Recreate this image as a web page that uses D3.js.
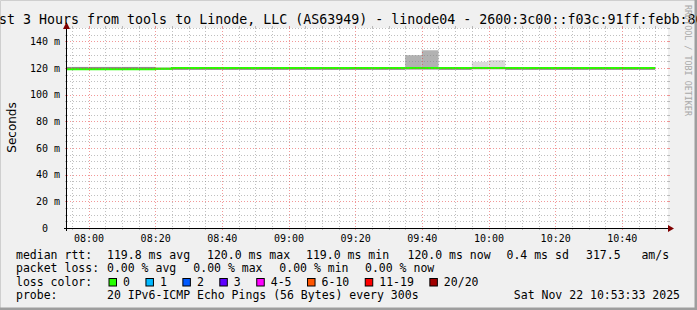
<!DOCTYPE html>
<html>
<head>
<meta charset="utf-8">
<script src="https://cdn.jsdelivr.net/npm/d3@7"></script>
<style>
  body { margin: 0; background: #f0f0f0; }
  svg { display: block; }
  text { font-family: "DejaVu Sans Mono", monospace; fill: #000; white-space: pre; }
</style>
</head>
<body>
<script>
// --- data ---
var medianRtt = [
  119.0, 119.0, 119.0, 119.0, 119.0, 119.0,   // 07:55 - 08:20
  119.5,                                      // 08:25
  120.0, 120.0, 120.0, 120.0, 120.0, 120.0, 120.0,  // 08:30 - 09:00
  120.0, 120.0, 120.0, 120.0, 120.0, 120.0, 120.0,  // 09:05 - 09:35
  120.0, 120.0, 120.0, 120.0, 120.0, 120.0, 120.0,  // 09:40 - 10:10
  120.0, 120.0, 120.0, 120.0, 120.0, 120.0, 120.0, 120.0 // 10:15 - 10:50
];
var smokeLo = [
  118.6, 118.6, 118.6, 118.6, 118.6, 118.6,
  118.6,
  118.6, 118.6, 118.6, 118.6, 118.6, 118.6, 118.6,
  118.6, 118.6, 118.6, 118.6, 118.6, 118.6, 118.6,
  118.6, 118.6, 118.6, 118.6, 118.6, 118.6, 118.6,
  118.6, 118.6, 118.6, 118.6, 118.6, 118.6, 118.6, 118.6
];
var smokeHi = [
  120.8, 120.8, 120.8, 120.8, 120.8, 120.8,
  120.3,
  120.3, 120.3, 120.3, 120.3, 120.3, 120.3, 120.3,
  120.3, 120.3, 120.3, 120.3, 120.3, 120.3, 120.3,
  129.6, 133.3, 120.3, 120.3, 124.6, 125.9, 120.3,
  120.3, 120.3, 120.3, 120.3, 120.3, 120.3, 120.3, 120.3
];
var titleText = "Last 3 Hours from tools to Linode, LLC (AS63949) - linode04 - 2600:3c00::f03c:91ff:febb:80";
var rttLegend = ["median rtt:", "119.8 ms avg", "120.0 ms max", "119.0 ms min", "120.0 ms now", "0.4 ms sd", "317.5   am/s"];
var lossLegend = ["packet loss:", "0.00 % avg", "0.00 % max", "0.00 % min", "0.00 % now"];
var lossLabels = ["0", "1", "2", "3", "4-5", "6-10", "11-19", "20/20"];
var probeLegend = ["probe:", "20 IPv6-ICMP Echo Pings (56 Bytes) every 300s"];
var stampText = "Sat Nov 22 10:53:33 2025";

var timeStart = new Date(2025, 10, 22, 7, 53, 33);
var timeEnd = new Date(2025, 10, 22, 10, 53, 33);
var step = 5; // minutes
var intervalEnds = d3.timeMinute.every(step).range(new Date(2025, 10, 22, 7, 55), new Date(2025, 10, 22, 10, 51));

// --- styling ---
var W = 697, H = 310;
var pL = 67, pR = 667, pT = 28, pB = 228;
var lossColors = ["#26ff00", "#00b8ff", "#0059ff", "#5e00ff", "#ff00ff", "#ff5500", "#ff0000", "#a10000"];
var gridCol = "rgba(130,130,130,0.5)";
var mgridCol = "rgba(230,50,50,0.5)";

var svg = d3.select("body").append("svg").attr("width", W).attr("height", H);

// background + 3d border
svg.append("rect").attr("width", W).attr("height", H).attr("fill", "#f0f0f0");
svg.append("path").attr("d", "M0.5," + (H - 1) + "V0.5H" + (W - 1)).attr("stroke", "#cfcfcf").attr("fill", "none");
svg.append("path").attr("d", "M" + (W - 1) + ",0V" + (H - 1) + "H0").attr("stroke", "#9e9e9e").attr("stroke-width", 3).attr("fill", "none");

var x = d3.scaleTime().domain([timeStart, timeEnd]).range([pL, pR]);
var y = d3.scaleLinear().domain([0, 150]).range([pB, pT]);

svg.append("rect").attr("x", pL).attr("y", pT).attr("width", pR - pL + 1).attr("height", pB - pT)
  .attr("fill", "#fff");

svg.append("clipPath").attr("id", "plot").append("rect")
  .attr("x", pL).attr("y", pT).attr("width", pR - pL + 1).attr("height", pB - pT);

var g = svg.append("g").attr("clip-path", "url(#plot)");

// smoke
g.selectAll("rect.smoke")
  .data(intervalEnds)
  .enter().append("rect")
  .attr("class", "smoke")
  .attr("x", function(d) { return x(d3.timeMinute.offset(d, -step)); })
  .attr("width", function(d) { return x(d) - x(d3.timeMinute.offset(d, -step)); })
  .attr("y", function(d, i) { return y(smokeHi[i]); })
  .attr("height", function(d, i) { return y(smokeLo[i]) - y(smokeHi[i]); })
  .attr("fill", function(d, i) {
    var spread = smokeHi[i] - medianRtt[i];
    if (spread > 8) return "#b2b2b2";
    if (spread > 2) return "#dadada";
    return "#8c8c8c";
  });

// median line
var pts = [];
intervalEnds.forEach(function(d, i) {
  pts.push([d3.timeMinute.offset(d, -step), medianRtt[i]]);
  pts.push([d, medianRtt[i]]);
});
var line = d3.line().x(function(d) { return x(d[0]); }).y(function(d) { return y(d[1]); });
g.append("path").datum(pts).attr("d", line)
  .attr("fill", "none").attr("stroke", lossColors[0]).attr("stroke-width", 2);

// grid (drawn on top like rrdtool)
var minorX = x.ticks(d3.timeMinute.every(5)).filter(function(t) { return t.getMinutes() % 20 !== 0; });
var majorX = x.ticks(d3.timeMinute.every(20));
var minorY = d3.range(5, 151, 5).filter(function(v) { return v % 20 !== 0; });
var majorY = d3.range(20, 141, 20);

function px(v) { return Math.round(v) + 0.5; }

var grid = svg.append("g");
function vgrid(list, col) {
  grid.selectAll(null).data(list).enter().append("line")
    .attr("x1", function(d) { return px(x(d)); }).attr("x2", function(d) { return px(x(d)); })
    .attr("y1", pT).attr("y2", pB)
    .attr("stroke", col).attr("stroke-dasharray", "1,2");
  [[pT - 2, pT], [pB, pB + 2]].forEach(function(e) {
    grid.selectAll(null).data(list).enter().append("line")
      .attr("x1", function(d) { return px(x(d)); }).attr("x2", function(d) { return px(x(d)); })
      .attr("y1", e[0]).attr("y2", e[1]).attr("stroke", col);
  });
}
function hgrid(list, col) {
  grid.selectAll(null).data(list).enter().append("line")
    .attr("y1", function(d) { return px(y(d)); }).attr("y2", function(d) { return px(y(d)); })
    .attr("x1", pL).attr("x2", pR + 1)
    .attr("stroke", col).attr("stroke-dasharray", "1,2");
  [[pL - 2, pL], [pR + 1, pR + 3]].forEach(function(e) {
    grid.selectAll(null).data(list).enter().append("line")
      .attr("y1", function(d) { return px(y(d)); }).attr("y2", function(d) { return px(y(d)); })
      .attr("x1", e[0]).attr("x2", e[1]).attr("stroke", col);
  });
}
vgrid(minorX, gridCol);
hgrid(minorY, gridCol);
vgrid(majorX, mgridCol);
hgrid(majorY, mgridCol);

// axis lines + arrows
svg.append("line").attr("x1", pL - 3).attr("x2", pR + 4).attr("y1", pB + 0.5).attr("y2", pB + 0.5)
  .attr("stroke", "#000");
svg.append("line").attr("x1", pL - 0.5).attr("x2", pL - 0.5).attr("y1", pB + 3).attr("y2", pT - 3)
  .attr("stroke", "#000");
svg.append("path").attr("d", "M" + (pR + 1) + "," + (pB - 3) + "L" + (pR + 7) + "," + (pB + 0.5) + "L" + (pR + 1) + "," + (pB + 4) + "Z")
  .attr("fill", "#7f0000");
svg.append("path").attr("d", "M" + (pL - 4) + "," + (pT + 1) + "L" + (pL - 0.5) + "," + (pT - 6) + "L" + (pL + 3) + "," + (pT + 1) + "Z")
  .attr("fill", "#7f0000");

// x labels
var xAxis = d3.axisBottom(x).ticks(d3.timeMinute.every(20)).tickFormat(d3.timeFormat("%H:%M")).tickSize(0).tickPadding(0);
var xa = svg.append("g").attr("transform", "translate(0," + (pB + 6) + ")").call(xAxis);
xa.select(".domain").remove();
xa.selectAll("text").attr("font-family", "DejaVu Sans Mono").attr("font-size", 10).attr("fill", "#000").attr("dy", "0.75em");

// y labels
var yAxis = d3.axisLeft(y).tickValues(d3.range(0, 141, 20))
  .tickFormat(function(d) { return d === 0 ? "0" : d + " m"; }).tickSize(0).tickPadding(0);
var ya = svg.append("g").attr("transform", "translate(60,0)").call(yAxis);
ya.select(".domain").remove();
ya.selectAll("text").attr("font-family", "DejaVu Sans Mono").attr("font-size", 10).attr("fill", "#000")
  .attr("x", function(d) { return d === 0 ? -12 : 0; });

// axis title
svg.append("text").attr("transform", "translate(15.5,127.5) rotate(-90)")
  .attr("text-anchor", "middle").style("font-family", "'DejaVu Sans', sans-serif").attr("font-size", 12)
  .text("Seconds");

// title
svg.append("text").attr("x", -17).attr("y", 23.5).attr("font-size", 13.3).text(titleText);

// watermark
svg.append("text").attr("transform", "translate(684.5,5) rotate(90)").attr("font-size", 8.4)
  .style("fill", "#a8a8a8").text("RRDTOOL / TOBI OETIKER");

// legend
var lg = svg.append("g").attr("font-size", 11.5);
var rttX = [16, 107, 207, 306, 407.5, 506.5, 586];
rttLegend.forEach(function(t, i) { lg.append("text").attr("x", rttX[i]).attr("y", 258.5).text(t); });
var lossX = [16, 107, 193.3, 279.3, 365];
lossLegend.forEach(function(t, i) { lg.append("text").attr("x", lossX[i]).attr("y", 272).text(t); });
lg.append("text").attr("x", 16).attr("y", 285.5).text("loss color:");
var bx = 108.5;
lossLabels.forEach(function(t, i) {
  lg.append("rect").attr("x", bx + 0.5).attr("y", 278.5).attr("width", 7.5).attr("height", 7.5)
    .attr("fill", lossColors[i]).attr("stroke", "#000");
  var tx = lg.append("text").attr("x", bx + 14.5).attr("y", 285.5).text(t);
  bx = bx + 14.5 + tx.node().getComputedTextLength() + 15.5;
});
lg.append("text").attr("x", 16).attr("y", 299).text(probeLegend[0]);
lg.append("text").attr("x", 107).attr("y", 299).text(probeLegend[1]);
lg.append("text").attr("x", 680).attr("y", 299).attr("text-anchor", "end").text(stampText);
</script>
</body>
</html>
